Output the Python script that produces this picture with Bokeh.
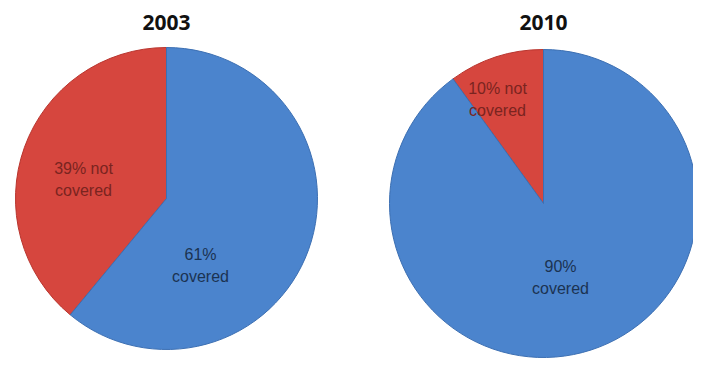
import math
from bokeh.plotting import figure
from bokeh.models import Range1d
from bokeh.core.properties import value
from bokeh.embed import file_html
from bokeh.resources import INLINE

# ---- data ----
years = ["2003", "2010"]
categories = ["covered", "not covered"]
covered = [61, 90]
not_covered = [39, 10]
labels_covered = [["61%", "covered"], ["90%", "covered"]]
labels_not = [["39% not", "covered"], ["10% not", "covered"]]

# ---- layout / style ----
W, H = 693, 363
centers = [(166, 198), (543, 203)]          # picture px
radii = [151, 154]
title_y = 22
lab_cov_off = [(34, 67), (17, 74)]            # offsets from centre (picture px)
lab_not_off = [(-83, -19), (-46, -104)]
blue = "#4b84cd"
red = "#d6463e"
blue_text = "#1b3352"
red_text = "#7a2420"

def sy(y):
    return H - y   # picture y -> data y

p = figure(width=W, height=H, output_backend="svg", toolbar_location=None,
           x_range=Range1d(0, W), y_range=Range1d(0, H),
           min_border=0, outline_line_color=None)
p.axis.visible = False
p.grid.visible = False
p.background_fill_color = "white"
p.border_fill_color = "white"

for i, yr in enumerate(years):
    cx, cy = centers[i]
    r = radii[i]
    total = covered[i] + not_covered[i]
    red_span = 2 * math.pi * not_covered[i] / total
    start = math.pi / 2
    # not covered: counter-clockwise from 12 o'clock
    p.wedge(x=[cx], y=[sy(cy)], radius=r, start_angle=start, end_angle=start + red_span,
            fill_color=red, line_color="#b8352e", line_width=1)
    p.wedge(x=[cx], y=[sy(cy)], radius=r, start_angle=start + red_span, end_angle=start + 2 * math.pi,
            fill_color=blue, line_color="#3c6fb2", line_width=1)
    p.text(x=[cx], y=[sy(title_y)], text=[yr], text_font=value("Open Sans"),
           text_font_style="bold", text_font_size="21px", text_align="center",
           text_baseline="middle", text_color="#111111")
    ox, oy = lab_not_off[i]
    p.text(x=[cx + ox, cx + ox], y=[sy(cy + oy - 11), sy(cy + oy + 11)], text=labels_not[i],
           text_font=value("Liberation Sans"), text_font_size="16px", text_align="center",
           text_baseline="middle", text_color=red_text)
    ox, oy = lab_cov_off[i]
    p.text(x=[cx + ox, cx + ox], y=[sy(cy + oy - 11), sy(cy + oy + 11)], text=labels_covered[i],
           text_font=value("Liberation Sans"), text_font_size="16px", text_align="center",
           text_baseline="middle", text_color=blue_text)

open("out.html", "w").write(file_html(p, INLINE))
